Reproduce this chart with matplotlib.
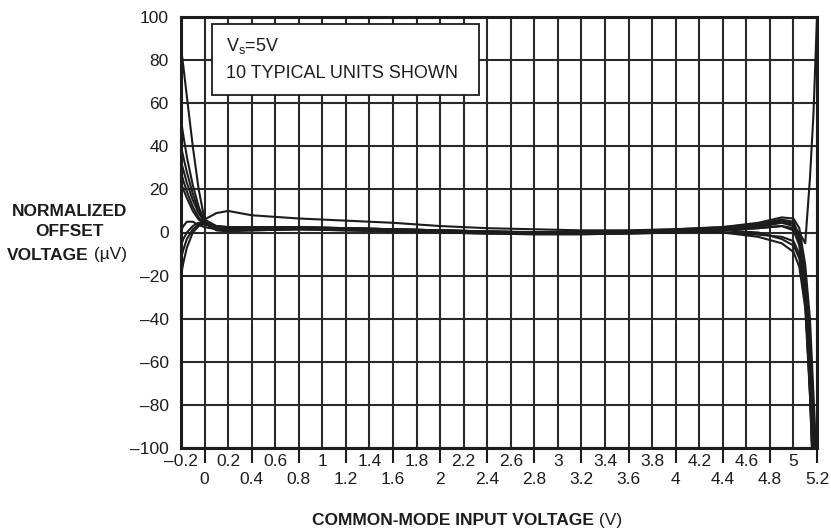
import matplotlib
matplotlib.use('Agg')
import matplotlib.pyplot as plt
from matplotlib.patches import Rectangle

plt.rcParams['font.family'] = ['Liberation Sans', 'DejaVu Sans']
plt.rcParams['mathtext.fontset'] = 'custom'
plt.rcParams['mathtext.rm'] = 'Liberation Sans'

W, H = 831, 528

# common-mode input voltage (V), sample points shared by all units
vcm = [-0.2, -0.18, -0.15, -0.1, -0.05, 0.0, 0.1, 0.2, 0.4, 0.8, 1.2, 1.6, 2.0,
       2.4, 2.8, 3.2, 3.6, 4.0, 4.4, 4.7, 4.9, 5.0, 5.05, 5.1, 5.14, 5.17, 5.2]

# normalized offset voltage (uV) of the 10 units
unit1 = [86, 77, 63, 40, 20, 6, 3, 2.5, 2.5, 2.5, 2, 1.5, 1, 0.5, 0.2, 0.3, 0.8,
         1.5, 2.5, 4, 6, 5, -2, -25, -70, -120, -160]
unit2 = [52, 45, 35, 22, 12, 5, 1, 0.5, 1, 1.5, 1.5, 1, 0.5, 0, -0.3, -0.3, 0,
         0.5, 1, 2, 3, 1, -6, -30, -75, -120, -160]
unit3 = [40, 35, 28, 18, 10, 6, 9, 10, 8, 6.5, 5.5, 4.5, 3, 2, 1.5, 1, 1, 1.5,
         2.5, 4.5, 7, 6.5, 2, -15, -40, -75, -110]
unit4 = [33, 29, 23, 15, 9, 5, 2, 1.5, 2, 2.5, 2, 1.5, 1, 0.5, 0, 0, 0.5, 1, 2,
         3.5, 5.5, 4, -3, -22, -60, -100, -140]
unit5 = [28, 24, 19, 12, 7, 4, 1.5, 1, 1, 1.5, 1, 0.5, 0, -0.5, -0.8, -0.8,
         -0.5, 0, 0, -1, -2, -4, -10, -30, -70, -110, -150]
unit6 = [23, 20, 16, 10, 6, 4, 2, 1.5, 1.5, 2, 2, 1.5, 1, 0.5, 0, 0, 0.3, 0.5,
         0, -2, -5, -9, -16, -35, -75, -115, -150]
unit7 = [1, 3, 5, 5, 3.5, 2.5, 1.5, 1, 1.5, 2, 1.5, 1, 0.5, 0, -0.5, -0.5, 0,
         0.5, 1, 2.5, 4.5, 3, -4, -28, -65, -105, -150]
unit8 = [-6, -3, 0, 3, 4.5, 4, 2.5, 2, 2, 2, 1.5, 1, 0.5, 0, -0.2, -0.2, 0.2,
         0.8, 1.5, 3, 5, 4, -1, -20, -50, -85, -120]
unit9 = [-12, -8, -3, 1.5, 3.5, 4.5, 3, 2.5, 2.5, 2.5, 2, 1.5, 1, 0.5, 0, 0,
         0.3, 0.8, 1, 0, -3, -6, -12, -32, -72, -112, -150]
unit10 = [-20, -14, -7, 0, 3, 4, 2.5, 2, 1.5, 1.5, 1, 0.5, 0, -0.5, -0.8, -0.8,
          -0.5, 0, 1, 2, 3, 2, 0, -5, 25, 55, 100]
units = [unit1, unit2, unit3, unit4, unit5, unit6, unit7, unit8, unit9, unit10]

# x ticks: lower row carries tick marks, upper row sits in between
x_major = [0, 0.4, 0.8, 1.2, 1.6, 2.0, 2.4, 2.8, 3.2, 3.6, 4.0, 4.4, 4.8, 5.2]
x_major_labels = ['0', '0.4', '0.8', '1.2', '1.6', '2', '2.4', '2.8', '3.2',
                  '3.6', '4', '4.4', '4.8', '5.2']
x_minor = [-0.2, 0.2, 0.6, 1.0, 1.4, 1.8, 2.2, 2.6, 3.0, 3.4, 3.8, 4.2, 4.6, 5.0]
x_minor_labels = ['–0.2', '0.2', '0.6', '1', '1.4', '1.8', '2.2', '2.6', '3',
                  '3.4', '3.8', '4.2', '4.6', '5']
y_ticks = [-100, -80, -60, -40, -20, 0, 20, 40, 60, 80, 100]
y_labels = ['–100', '–80', '–60', '–40', '–20', '0', '20', '40', '60', '80', '100']

INK = '#1c1c1c'
GRID = '#2a2a2a'
FS = 12.5

fig = plt.figure(figsize=(W / 100, H / 100), dpi=100)
ax = fig.add_axes([181 / W, 80 / H, 636 / W, 431 / H])

for u in units:
    ax.plot(vcm, u, color=INK, lw=1.5, zorder=2, solid_joinstyle='round')

ax.set_xlim(-0.2, 5.2)
ax.set_ylim(-100, 100)
ax.set_xticks(x_major)
ax.set_xticklabels(x_major_labels)
ax.set_xticks(x_minor, minor=True)
ax.set_xticklabels(x_minor_labels, minor=True)
ax.set_yticks(y_ticks)
ax.set_yticklabels(y_labels)

ax.set_axisbelow(True)
ax.grid(which='both', color=GRID, lw=1.5)
for s in ax.spines.values():
    s.set_linewidth(2.2)
    s.set_color(INK)

ax.tick_params(axis='x', which='major', length=11, width=1.5, color=INK,
               pad=6, labelsize=FS, labelcolor=INK)
ax.tick_params(axis='x', which='minor', length=0, pad=4, labelsize=FS,
               labelcolor=INK)
ax.tick_params(axis='y', length=0, pad=9, labelsize=FS, labelcolor=INK)

# note box
ax.add_patch(Rectangle((31 / 636, (448 - 95) / 431), 267 / 636, 71 / 431,
                       transform=ax.transAxes, fc='white', ec=INK, lw=1.3,
                       zorder=4))
ax.text(45 / 636, (448 - 46) / 431, r'V$_\mathregular{s}$=5V', transform=ax.transAxes,
        fontsize=13, color=INK, va='center', ha='left', zorder=5)
ax.text(45 / 636, (448 - 73) / 431, '10 TYPICAL UNITS SHOWN', transform=ax.transAxes,
        fontsize=13, color=INK, va='center', ha='left', zorder=5)

# axis titles: bold caption followed by a plain unit
xl = fig.text(312 / W, 3 / H, 'COMMON-MODE INPUT VOLTAGE', fontsize=FS,
              fontweight='bold', color=INK, ha='left', va='baseline')
ax.annotate(' (V)', xy=(1, 0), xycoords=xl, fontsize=FS, color=INK,
            ha='left', va='bottom', annotation_clip=False)

fig.text(70 / W, 1 - 211.5 / H, 'NORMALIZED', fontsize=FS, fontweight='bold',
         color=INK, ha='center', va='center')
fig.text(70 / W, 1 - 232 / H, 'OFFSET', fontsize=FS, fontweight='bold',
         color=INK, ha='center', va='center')
yl = fig.text(7 / W, 1 - 255 / H, 'VOLTAGE', fontsize=FS, fontweight='bold',
              color=INK, ha='left', va='center')
ax.annotate(' (µV)', xy=(1, 0), xycoords=yl, fontsize=FS, color=INK,
            ha='left', va='bottom', annotation_clip=False)

fig.savefig('out.png', dpi=100, facecolor='white')
